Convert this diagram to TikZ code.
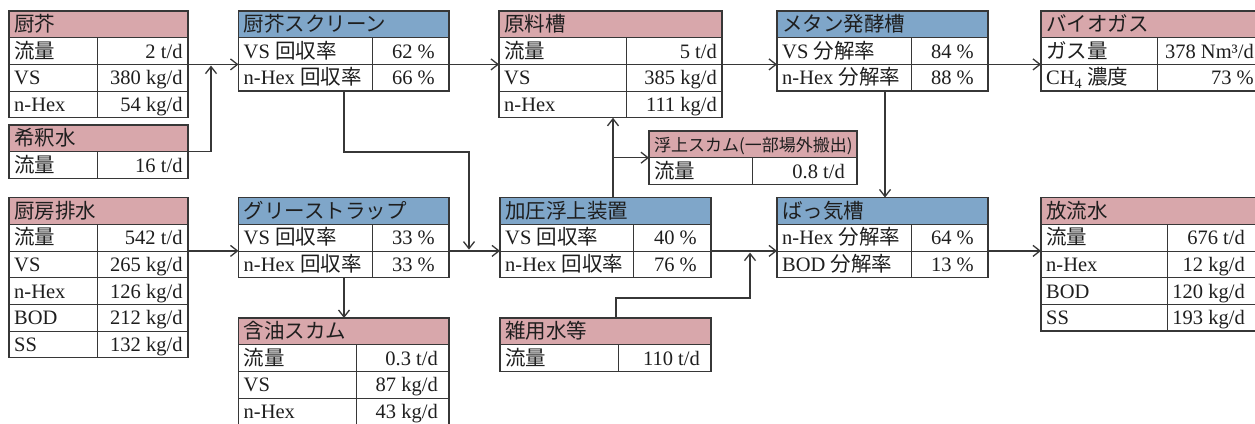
\documentclass[tikz,border=0pt]{standalone}
\usepackage{fontspec}
\setmainfont{Liberation Serif}
\newfontfamily\jpf{Noto Sans CJK JP}
\newcommand\jp[1]{{\jpf #1}}
\usetikzlibrary{arrows.meta,calc}
\definecolor{pinkf}{RGB}{216,167,171}
\definecolor{bluef}{RGB}{127,166,201}
\definecolor{linec}{RGB}{55,55,55}
\definecolor{txtc}{RGB}{30,30,30}
\def\rh{26.7}
\tikzset{
  boxframe/.style={draw=linec, line width=1.3pt, inner sep=0pt, outer sep=0pt, anchor=north west},
  innerline/.style={draw=linec, line width=0.8pt},
  lbl/.style={anchor=base west, inner sep=0pt, text=txtc, font=\fontsize{20.5}{24}\selectfont},
  val/.style={anchor=base east, inner sep=0pt, text=txtc, font=\fontsize{20.5}{24}\selectfont},
  arr/.style={draw=linec, line width=1.3pt, -{Straight Barb[length=7pt,width=11pt,line width=1.3pt]}},
}
% #1 name #2 x #3 y #4 w #5 rows #6 colx #7 fill #8 value right x #9 title
\newcommand\tbox[9]{%
  \pgfmathsetmacro\tbR{#2+#4}%
  \pgfmathsetmacro\tbB{#3+#5*\rh}%
  \pgfmathsetmacro\tbT{#3+\rh}%
  \pgfmathsetmacro\tbH{#5*\rh}%
  \pgfmathtruncatemacro\tbN{#5-1}%
  \xdef\tbx{#2}\xdef\tby{#3}\xdef\tbv{#8}%
  \fill[#7] (#2,#3) rectangle (\tbR,\tbT);
  \foreach \k in {1,...,\tbN} {\draw[innerline] (#2,{#3+\k*\rh}) -- (\tbR,{#3+\k*\rh});}
  \draw[innerline] (#6,\tbT) -- (#6,\tbB);
  \node[boxframe, minimum width=#4pt, minimum height=\tbH pt] (#1) at (#2,#3) {};
  \foreach \k in {0,...,#5} {\coordinate (#1-l\k) at (#2,{#3+\k*\rh}); \coordinate (#1-r\k) at (\tbR,{#3+\k*\rh});}
  \node[lbl] (#1-t) at ({#2+5},{#3+20.5}) {#9};
}
\newcommand\trows[1]{%
  \foreach \a/\b [count=\k] in {#1} {%
    \node[lbl] at ({\tbx+5},{\tby+\k*\rh+20.5}) {\a};
    \node[val] at ({\tbv},{\tby+\k*\rh+20.5}) {\b};
  }%
}
\begin{document}
\begin{tikzpicture}[x=1pt,y=-1pt]
\useasboundingbox (0,0) rectangle (1255,423);
\clip (0,0) rectangle (1255,423);
\fill[white] (0,0) rectangle (1255,423);

% top row
\tbox{kuchu}{9}{11}{179}{4}{97}{pinkf}{182.7}{\jp{厨芥}}
\trows{{\jp{流量}}/{2 t/d},{VS}/{380 kg/d},{n-Hex}/{54 kg/d}}
\tbox{kishaku}{9}{125}{179}{2}{97}{pinkf}{182.7}{\jp{希釈水}}
\trows{{\jp{流量}}/{16 t/d}}
\tbox{screen}{238.5}{11}{210.5}{3}{372}{bluef}{435}{\jp{厨芥スクリーン}}
\trows{{VS \jp{回収率}}/{62 \%},{n-Hex \jp{回収率}}/{66 \%}}
\tbox{genryo}{499}{11}{223}{4}{626}{pinkf}{717}{\jp{原料槽}}
\trows{{\jp{流量}}/{5 t/d},{VS}/{385 kg/d},{n-Hex}/{111 kg/d}}
\tbox{methane}{777}{11}{211}{3}{911}{bluef}{974}{\jp{メタン発酵槽}}
\trows{{VS \jp{分解率}}/{84 \%},{n-Hex \jp{分解率}}/{88 \%}}
\tbox{biogas}{1041}{11}{230}{3}{1157}{pinkf}{1254}{\jp{バイオガス}}
\trows{{\jp{ガス量}}/{378 Nm³/d},{CH\textsubscript{4} \jp{濃度}}/{73 \%}}
\tbox{fujo}{649}{131}{208}{2}{752}{pinkf}{845}{\fontsize{17}{20}\selectfont\jp{浮上スカム(一部場外搬出)}}
\trows{{\jp{流量}}/{0.8 t/d}}

% bottom row
\tbox{haisui}{9}{197.5}{179}{6}{97}{pinkf}{182.7}{\jp{厨房排水}}
\trows{{\jp{流量}}/{542 t/d},{VS}/{265 kg/d},{n-Hex}/{126 kg/d},{BOD}/{212 kg/d},{SS}/{132 kg/d}}
\tbox{grease}{238.5}{197.5}{210.5}{3}{372}{bluef}{435}{\jp{グリーストラップ}}
\trows{{VS \jp{回収率}}/{33 \%},{n-Hex \jp{回収率}}/{33 \%}}
\tbox{ganyu}{238.5}{318}{210.5}{4}{356}{pinkf}{438}{\jp{含油スカム}}
\trows{{\jp{流量}}/{0.3 t/d},{VS}/{87 kg/d},{n-Hex}/{43 kg/d}}
\tbox{kaatsu}{500}{197.5}{211}{3}{633}{bluef}{697}{\jp{加圧浮上装置}}
\trows{{VS \jp{回収率}}/{40 \%},{n-Hex \jp{回収率}}/{76 \%}}
\tbox{zatsuyo}{500}{318}{211}{2}{618}{pinkf}{700}{\jp{雑用水等}}
\trows{{\jp{流量}}/{110 t/d}}
\tbox{bakki}{777}{197.5}{211}{3}{911}{bluef}{974}{\jp{ばっ気槽}}
\trows{{n-Hex \jp{分解率}}/{64 \%},{BOD \jp{分解率}}/{13 \%}}
\tbox{horyu}{1041}{197.5}{230}{5}{1167}{pinkf}{1245}{\jp{放流水}}
\trows{{\jp{流量}}/{676 t/d},{n-Hex}/{12 kg/d},{BOD}/{120 kg/d},{SS}/{193 kg/d}}

% helper coordinates
\coordinate (j1) at (211,65.6);
\coordinate (b1) at (344,152);
\coordinate (b2) at (469,152);
\coordinate (j2) at (469,249.6);
\coordinate (c1) at (613,157.7);
\coordinate (d1) at (616,298);
\coordinate (d2) at (750,298);
\coordinate (j3) at (750,252.6);
\coordinate (e1) at (885,0);

% connectors
\draw[arr] (kuchu-r2) -- (screen-l2);
\draw[arr] (kishaku-r1) -| (j1);
\draw[arr] (screen-r2) -- (genryo-l2);
\draw[arr] (genryo-r2) -- (methane-l2);
\draw[arr] (methane-r2) -- (biogas-l2);
\draw[arr] (screen.south -| b1) -- (b1) -- (b2) -- (j2);
\draw[arr] (haisui-r2) -- (grease-l2);
\draw[arr] (grease-r2) -- (kaatsu-l2);
\draw[arr] (grease.south -| b1) -- (ganyu.north -| b1);
\draw[arr] (kaatsu.north -| c1) -- (genryo.south -| c1);
\draw[arr] (c1) -- (fujo-l1);
\draw[arr] (kaatsu-r2) -- (bakki-l2);
\draw[arr] (zatsuyo.north -| d1) -- (d1) -- (d2) -- (j3);
\draw[arr] (methane.south -| e1) -- (bakki.north -| e1);
\draw[arr] (bakki-r2) -- (horyu-l2);
\end{tikzpicture}
\end{document}
